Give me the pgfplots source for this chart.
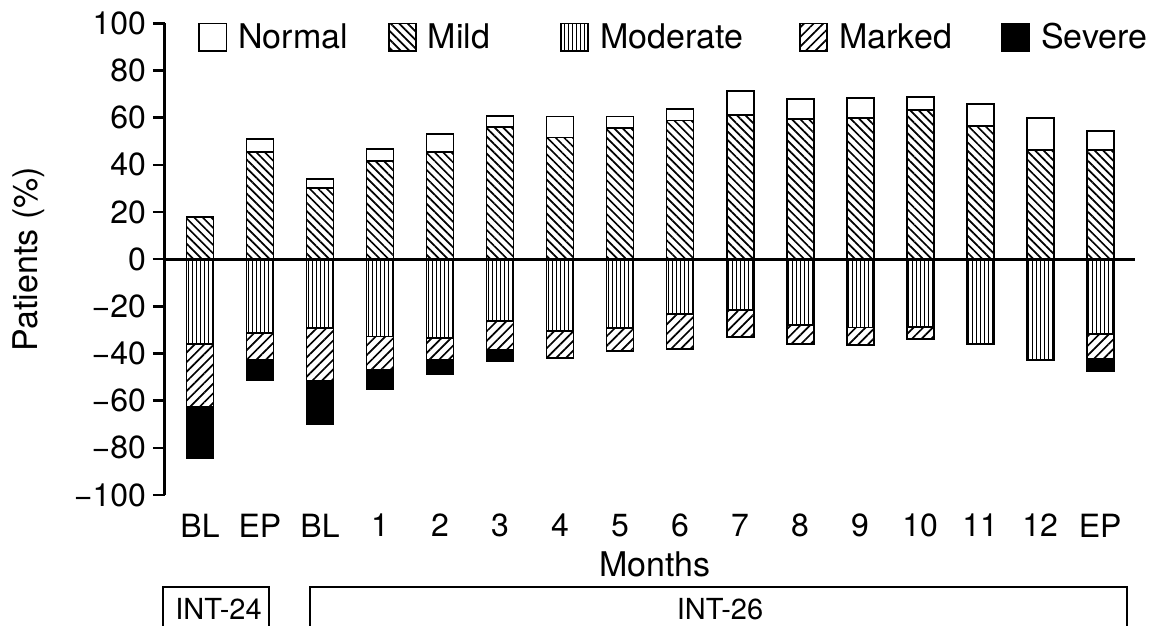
\documentclass[border=0pt]{standalone}
\usepackage{fontspec}
\setmainfont{TeX Gyre Heros}
\usepackage{pgfplots}
\usepackage{pgfplotstable}
\pgfplotsset{compat=1.18}
\usetikzlibrary{patterns.meta}

% positive side: top of Mild, top of Normal (cumulative)
\pgfplotstableread{
x mild total
0 18.0 18.0
1 45.3 50.8
2 30.1 34.0
3 41.7 46.6
4 45.3 53.1
5 56.1 60.7
6 51.6 60.5
7 55.5 60.5
8 58.8 63.6
9 61.0 71.2
10 59.5 67.8
11 59.7 68.4
12 63.3 68.6
13 56.5 65.7
14 46.3 59.9
15 46.3 54.5
}\postab

% negative side: bottom of Moderate
\pgfplotstableread{
x moderate
0 -35.9
1 -31.4
2 -29.2
3 -32.8
4 -33.5
5 -26.3
6 -30.6
7 -29.2
8 -23.2
9 -21.5
10 -27.8
11 -29.0
12 -28.8
13 -36.0
14 -42.7
15 -31.6
}\modtab

% bottom of Marked (cumulative)
\pgfplotstableread{
x marked
0 -62.7
1 -42.7
2 -51.8
3 -46.9
4 -42.9
5 -38.6
6 -41.8
7 -39.0
8 -38.1
9 -33.1
10 -36.0
11 -36.3
12 -33.8
15 -42.2
}\martab

% bottom of Severe (cumulative)
\pgfplotstableread{
x severe
0 -84.3
1 -51.1
2 -69.8
3 -55.1
4 -48.9
5 -43.2
15 -47.6
}\sevtab

\newcommand{\legbox}[1]{\addlegendimage{legend image code/.code={\draw[draw=black,line width=0.9pt,#1] (0pt,-6.8pt) rectangle (13.6pt,6.8pt);}}}

\begin{document}
\begin{tikzpicture}[font=\fontsize{16}{19}\selectfont]
\begin{axis}[
  scale only axis, width=485pt, height=235.85pt,
  xmin=-0.583, xmax=15.58, ymin=-100, ymax=100, enlargelimits=false,
  ybar, bar width=13.5pt, bar shift=0pt,
  axis y line=left, axis x line=bottom,
  x axis line style={draw=none},
  y axis line style={-, line width=1.5pt},
  axis on top,
  xtick={0,...,15},
  xticklabels={BL,EP,BL,1,2,3,4,5,6,7,8,9,10,11,12,EP},
  xtick style={draw=none},
  ytick={-100,-80,-60,-40,-20,0,20,40,60,80,100},
  yticklabels={−100,−80,−60,−40,−20,0,20,40,60,80,100},
  ytick style={line width=1.3pt, black},
  tick align=outside, major tick length=6pt,
  extra y ticks={0}, extra y tick labels={},
  extra y tick style={grid=major, major grid style={black, line width=1.6pt}},
  xlabel={Months},
  every axis x label/.style={at={(axis description cs:0.505,-0.148)}, anchor=center, font=\fontsize{17}{20}\selectfont},
  ylabel={Patients (\%)},
  every axis y label/.style={at={(axis description cs:-0.1402,0.5)}, rotate=90, anchor=center, font=\fontsize{17}{20}\selectfont},
  legend columns=5,
  legend style={at={(axis description cs:0.034,1.01)}, anchor=north west,
    draw=none, fill=none, inner sep=0pt, font=\fontsize{17}{20}\selectfont,
    /tikz/every odd column/.append style={column sep=3.5pt},
    /tikz/column 2/.append style={column sep=18pt},
    /tikz/column 4/.append style={column sep=33pt},
    /tikz/column 6/.append style={column sep=26pt},
    /tikz/column 8/.append style={column sep=22.5pt}},
]
\legbox{fill=white}
\addlegendentry{Normal}
\legbox{pattern={Lines[angle=-45,distance=3pt,line width=0.85pt]}}
\addlegendentry{Mild}
\legbox{pattern={Lines[angle=90,distance=2pt,line width=0.45pt]}}
\addlegendentry{Moderate}
\legbox{pattern={Lines[angle=45,distance=3.4pt,line width=0.85pt]}}
\addlegendentry{Marked}
\legbox{fill=black}
\addlegendentry{Severe}

% positive stack
\addplot[draw=black, line width=0.9pt, fill=white, forget plot] table[x=x,y=total]{\postab};
\addplot[draw=black, line width=0.9pt, fill=white,
  postaction={pattern={Lines[angle=-45,distance=3pt,line width=0.85pt]}}, forget plot]
  table[x=x,y=mild]{\postab};
% negative stack
\addplot[draw=black, line width=0.9pt, fill=black, forget plot] table[x=x,y=severe]{\sevtab};
\addplot[draw=black, line width=0.9pt, fill=white,
  postaction={pattern={Lines[angle=45,distance=3.4pt,line width=0.85pt]}}, forget plot]
  table[x=x,y=marked]{\martab};
\addplot[draw=black, line width=0.9pt, fill=white,
  postaction={pattern={Lines[angle=90,distance=2pt,line width=0.45pt]}}, forget plot]
  table[x=x,y=moderate]{\modtab};
\end{axis}

\draw[line width=1pt] (-1pt,-70pt) -- (-1pt,-45.85pt) -- (52pt,-45.85pt) -- (52pt,-70pt);
\node[font=\fontsize{14.5}{17}\selectfont] at (26.75pt,-57.1pt) {INT-24};
\draw[line width=1pt] (72.5pt,-70pt) -- (72.5pt,-45.85pt) -- (481pt,-45.85pt) -- (481pt,-70pt);
\node[font=\fontsize{14.5}{17}\selectfont] at (277.5pt,-57.1pt) {INT-26};

\pgfresetboundingbox
\path[use as bounding box] (-82.5pt,-65.35pt) rectangle (499.5pt,247.5pt);
\end{tikzpicture}
\end{document}
